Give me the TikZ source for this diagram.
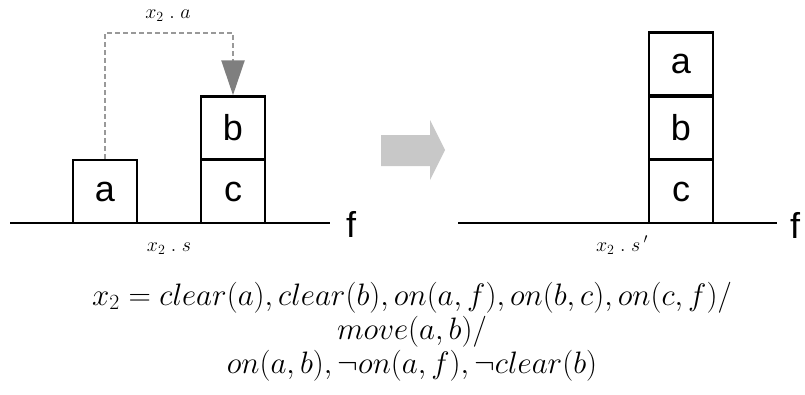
\RequirePackage{fix-cm}
\documentclass[tikz,border=0pt]{standalone}
\usepackage{fontspec}
\setsansfont{Liberation Sans}
\usetikzlibrary{arrows.meta}
\definecolor{dashgray}{HTML}{999999}
\definecolor{headgray}{HTML}{7F7F7F}
\definecolor{bigarrow}{HTML}{C8C8C8}
\tikzset{
  x=1pt, y=-1pt,
  blk/.style={draw=black, line width=2.5pt, minimum width=64pt, minimum height=63pt, inner sep=0pt,
    font=\sffamily\fontsize{36}{40}\selectfont},
  ground/.style={line width=2.5pt},
  flabel/.style={font=\sffamily\fontsize{36}{40}\selectfont, anchor=base, inner sep=0pt},
  smalllab/.style={font=\fontsize{20}{24}\selectfont, anchor=base, inner sep=0pt},
  formula/.style={font=\fontsize{31}{34}\selectfont, align=center, anchor=north, inner sep=0pt},
  dashconn/.style={draw=dashgray, line width=2.5pt, dash pattern=on 5pt off 3pt,
    -{Triangle[width=23pt,length=35pt,color=headgray,fill=headgray]}}
}
\begin{document}
\begin{tikzpicture}
\useasboundingbox (0,0) rectangle (805,394);
% left scene
\coordinate (gl1) at (10,223);
\coordinate (gl2) at (330,223);
\draw[ground] (gl1) -- (gl2);
\node[flabel] (fl) at (351,237) {f};
\node[blk] (a) at (105,191.5) {a};
\node[blk] (c) at (233,191.5) {c};
\node[blk] (b) at (233,128) {b};
\coordinate (dtop) at (233,33);
\draw[dashconn] (a.north) |- (dtop) -- (b.north);
\node[smalllab] (la) at (168,18) {$x_2\;.\;a$};
\node[smalllab] (ls) at (169,251) {$x_2\;.\;s$};
% big arrow
\fill[bigarrow] (381,135) -- (430,135) -- (430,120) -- (445,150) -- (430,180) -- (430,166) -- (381,166) -- cycle;
% right scene
\coordinate (gr1) at (458,223);
\coordinate (gr2) at (777,223);
\draw[ground] (gr1) -- (gr2);
\node[flabel] (fr) at (795,238) {f};
\node[blk] (c2) at (681,191.5) {c};
\node[blk] (b2) at (681,128) {b};
\node[blk] (a2) at (681,64) {a};
\node[smalllab] (ls2) at (622,251) {$x_2\;.\;s\,'$};
% formula
\node[formula] (fm) at (412,281.75) {$x_2 = clear(a), clear(b), on(a,f), on(b,c), on(c,f)/$\\
$move(a,b)/$\\
$on(a,b), \neg on(a,f), \neg clear(b)$};
\end{tikzpicture}
\end{document}
